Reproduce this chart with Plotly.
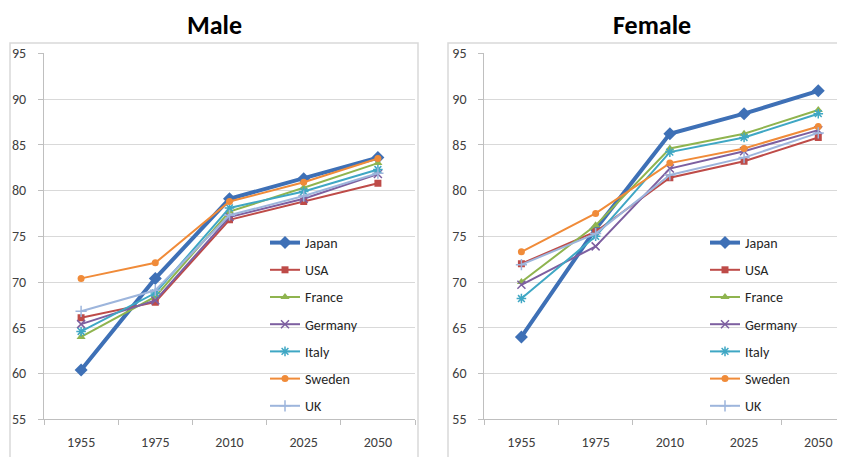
import plotly.graph_objects as go

years = ["1955", "1975", "2010", "2025", "2050"]
countries = ["Japan", "USA", "France", "Germany", "Italy", "Sweden", "UK"]

male_japan = [60.4, 70.4, 79.1, 81.3, 83.6]
male_usa = [66.1, 67.8, 76.8, 78.8, 80.8]
male_france = [64.0, 68.4, 77.7, 80.3, 83.0]
male_germany = [65.4, 68.0, 77.1, 79.1, 81.8]
male_italy = [64.6, 68.8, 78.1, 79.9, 82.3]
male_sweden = [70.4, 72.1, 78.8, 80.9, 83.5]
male_uk = [66.8, 69.1, 77.3, 79.4, 81.9]

female_japan = [64.0, 75.8, 86.2, 88.4, 90.9]
female_usa = [72.0, 75.5, 81.4, 83.2, 85.8]
female_france = [70.0, 76.2, 84.6, 86.2, 88.8]
female_germany = [69.7, 73.9, 82.4, 84.3, 86.6]
female_italy = [68.2, 75.0, 84.2, 85.8, 88.4]
female_sweden = [73.3, 77.5, 83.0, 84.6, 87.0]
female_uk = [71.9, 75.3, 81.7, 83.6, 86.3]

male = [male_japan, male_usa, male_france, male_germany, male_italy, male_sweden, male_uk]
female = [female_japan, female_usa, female_france, female_germany, female_italy, female_sweden, female_uk]

colors = ["#3E70B6", "#BE4B48", "#8FB44F", "#7D5FA0", "#3FA7C4", "#F08B39", "#9DB5DC"]
symbols = ["diamond", "square", "triangle-up", "x-thin", "asterisk", "circle", "cross-thin"]
msizes = [10, 7, 8, 8, 8, 7, 8]
lwidths = [4, 2, 2, 2, 2, 2, 2]

FONT = "Carlito, Lato, 'Open Sans', sans-serif"

fig = go.Figure()
for i, c in enumerate(countries):
    for data, xa, ya, lg in [(male, "x", "y", "legend"), (female, "x2", "y2", "legend2")]:
        thin = symbols[i] in ("x-thin", "asterisk", "cross-thin")
        fig.add_trace(go.Scatter(
            x=years, y=data[i], name=c, mode="lines+markers",
            xaxis=xa, yaxis=ya, legend=lg, legendgroup=lg + c,
            line=dict(color=colors[i], width=lwidths[i]),
            marker=dict(symbol=symbols[i], size=msizes[i], color=colors[i],
                        line=dict(color=colors[i], width=1.5 if thin else 0)),
        ))

# page has an 8px body margin; figure sized so its right/bottom edges meet the window
OFF = 8
W, H = 845 - OFF, 457 - OFF
def px(x):
    return (x - OFF) / W
def py(y):
    return 1 - (y - OFF) / H

axis_common = dict(
    type="category", categoryorder="array", categoryarray=years,
    showgrid=False, showline=True, linecolor="#BFBFBF", linewidth=1,
    ticks="outside", tickson="boundaries", ticklen=5, tickcolor="#BFBFBF",
    tickfont=dict(family=FONT, size=14, color="#404040"),
    zeroline=False, fixedrange=True, ticklabelstandoff=10,
)
yaxis_common = dict(
    range=[55, 95], dtick=5, showgrid=True, gridcolor="#D9D9D9", gridwidth=1,
    showline=True, linecolor="#BFBFBF", linewidth=1,
    ticks="outside", ticklen=5, tickcolor="#BFBFBF",
    tickfont=dict(family=FONT, size=14, color="#404040"),
    zeroline=False, fixedrange=True, ticklabelstandoff=9,
)

legend_common = dict(
    bgcolor="rgba(0,0,0,0)", borderwidth=0,
    font=dict(family=FONT, size=14, color="#262626"),
    tracegroupgap=6, itemwidth=30, yanchor="top", xanchor="left",
)

fig.update_layout(
    width=W, height=H, margin=dict(l=0, r=0, t=0, b=0, autoexpand=False),
    paper_bgcolor="white", plot_bgcolor="white",
    xaxis=dict(domain=[px(44), px(415)], range=[-0.5, 4.5], anchor="y", **axis_common),
    yaxis=dict(domain=[py(419.3), py(53.3)], anchor="x", **yaxis_common),
    xaxis2=dict(domain=[px(484.3), 1.0], range=[-0.5, 4.36], anchor="y2", **axis_common),
    yaxis2=dict(domain=[py(419.3), py(53.3)], anchor="x2", **yaxis_common),
    legend=dict(x=px(265), y=py(227), **legend_common),
    legend2=dict(x=px(705), y=py(227), **legend_common),
    showlegend=True,
    shapes=[
        dict(type="rect", xref="paper", yref="paper", x0=px(10), x1=px(418), y0=py(470), y1=py(43),
             line=dict(color="#D9D9D9", width=1.5), fillcolor="rgba(0,0,0,0)", layer="below"),
        dict(type="rect", xref="paper", yref="paper", x0=px(448), x1=px(860), y0=py(470), y1=py(43),
             line=dict(color="#D9D9D9", width=1.5), fillcolor="rgba(0,0,0,0)", layer="below"),
    ],
    annotations=[
        dict(text="<b>Male</b>", x=px(214), y=1.0, xref="paper", yref="paper",
             showarrow=False, font=dict(family=FONT, size=26, color="black"),
             xanchor="center", yanchor="top", borderpad=0),
        dict(text="<b>Female</b>", x=px(652), y=1.0, xref="paper", yref="paper",
             showarrow=False, font=dict(family=FONT, size=26, color="black"),
             xanchor="center", yanchor="top", borderpad=0),
    ],
)

fig.write_html("out.html")
